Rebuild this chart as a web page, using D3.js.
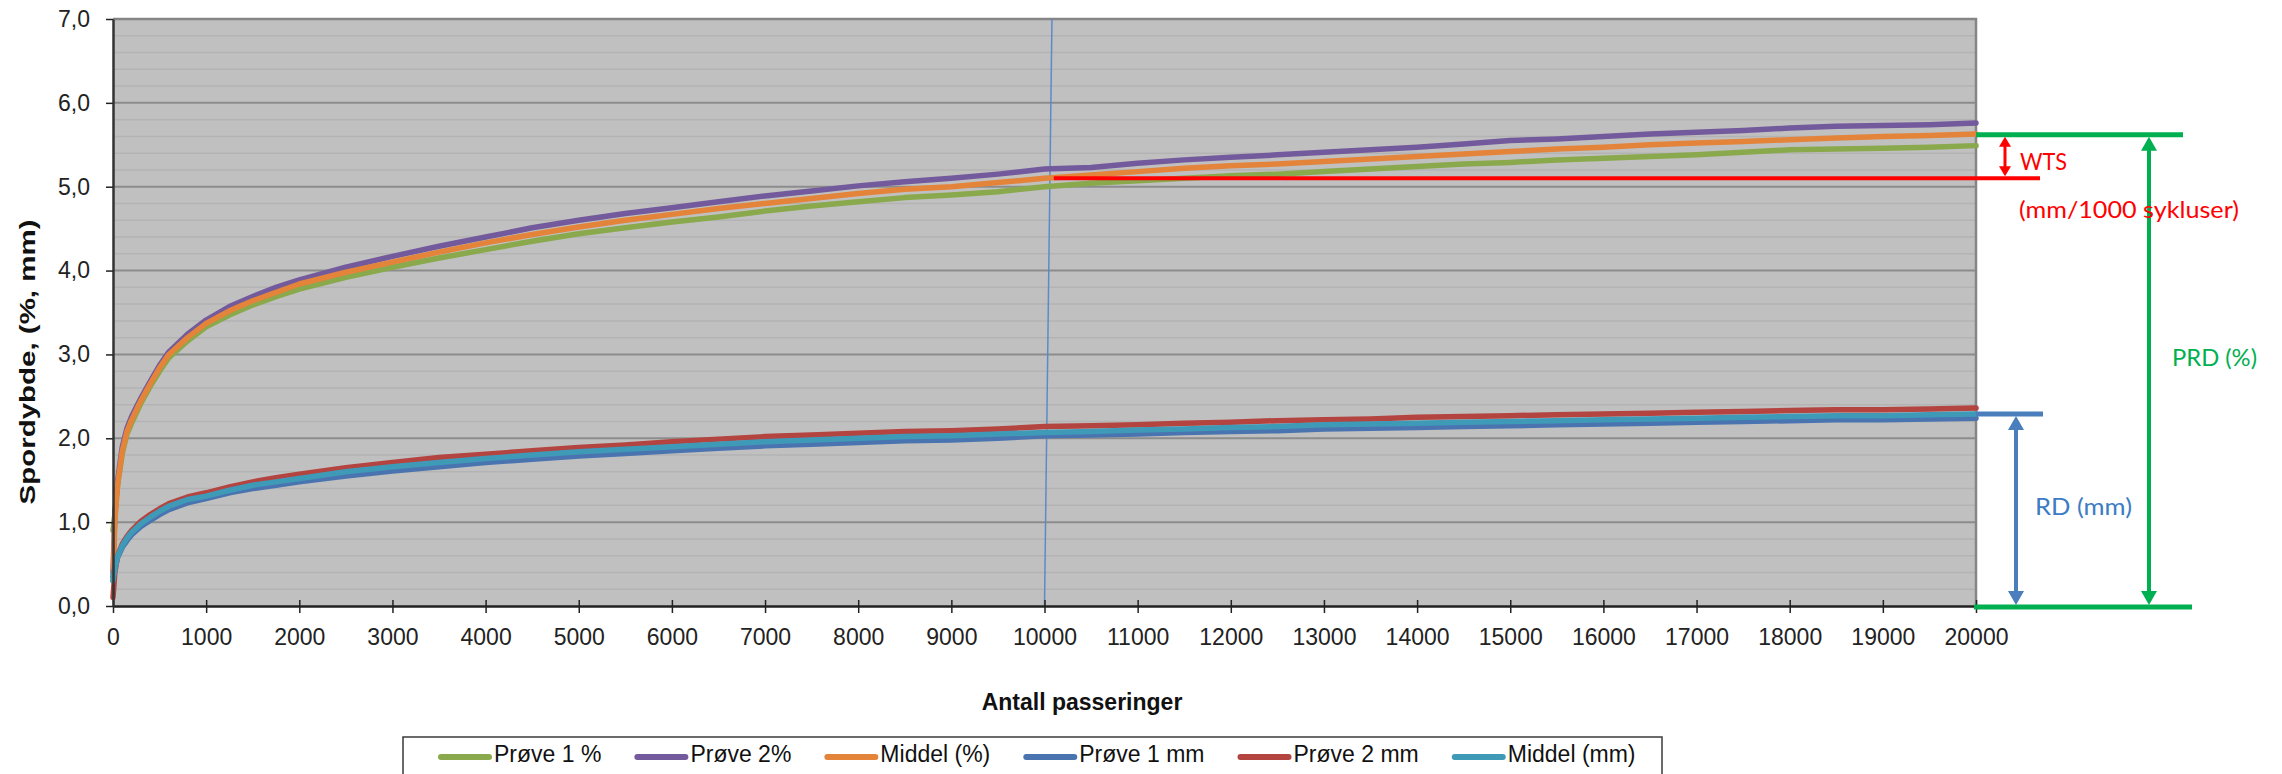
<!DOCTYPE html>
<html>
<head>
<meta charset="utf-8">
<script src="https://cdn.jsdelivr.net/npm/d3@7/dist/d3.min.js"></script>
<style>
  body { margin: 0; background: #fff; }
  svg { display: block; font-family: "Liberation Sans", Arial, sans-serif; }
</style>
</head>
<body>
<svg id="chart"></svg>
<script>
// antall passeringer (x values)
const passes = [0, 20, 50, 100, 150, 200, 300, 400, 500, 600, 800, 1000, 1250, 1500, 1750, 2000,
  2500, 3000, 3500, 4000, 4500, 5000, 5500, 6000, 6500, 7000, 7500, 8000, 8500, 9000, 9500, 10000,
  10500, 11000, 11500, 12000, 12500, 13000, 13500, 14000, 14500, 15000, 15500, 16000, 16500, 17000,
  17500, 18000, 18500, 19000, 19500, 20000];

const prove1Pct = [0.9, 1.1, 1.45, 1.82, 2.05, 2.18, 2.42, 2.62, 2.8, 2.96, 3.16, 3.33, 3.47, 3.59, 3.69, 3.78,
  3.92, 4.04, 4.15, 4.25, 4.35, 4.44, 4.51, 4.58, 4.64, 4.71, 4.77, 4.82, 4.87, 4.9, 4.94, 5.0,
  5.04, 5.07, 5.1, 5.13, 5.15, 5.18, 5.21, 5.24, 5.27, 5.29, 5.32, 5.34, 5.36, 5.38,
  5.41, 5.44, 5.45, 5.46, 5.47, 5.49];

const prove2Pct = [0.4, 1.1, 1.5, 1.9, 2.12, 2.26, 2.48, 2.68, 2.87, 3.03, 3.24, 3.41, 3.57, 3.69, 3.8, 3.89,
  4.04, 4.17, 4.29, 4.4, 4.51, 4.6, 4.68, 4.75, 4.82, 4.89, 4.95, 5.01, 5.06, 5.1, 5.15, 5.21,
  5.23, 5.28, 5.32, 5.35, 5.38, 5.41, 5.44, 5.47, 5.51, 5.55, 5.57, 5.6, 5.63, 5.65,
  5.67, 5.7, 5.72, 5.73, 5.74, 5.76];

const middelPct = [0.3, 1.0, 1.45, 1.85, 2.08, 2.22, 2.45, 2.65, 2.84, 3.0, 3.2, 3.37, 3.52, 3.64, 3.74, 3.84,
  3.98, 4.1, 4.22, 4.33, 4.43, 4.52, 4.6, 4.67, 4.74, 4.8, 4.86, 4.92, 4.97, 5.0, 5.05, 5.1,
  5.14, 5.18, 5.22, 5.25, 5.27, 5.3, 5.33, 5.36, 5.39, 5.42, 5.45, 5.47, 5.5, 5.52,
  5.54, 5.56, 5.58, 5.6, 5.61, 5.63];

const prove1Mm = [0.35, 0.46, 0.58, 0.7, 0.78, 0.85, 0.95, 1.02, 1.09, 1.15, 1.23, 1.28, 1.35, 1.4, 1.44, 1.48,
  1.55, 1.61, 1.66, 1.71, 1.75, 1.79, 1.82, 1.85, 1.88, 1.91, 1.93, 1.95, 1.97, 1.98, 2.0, 2.03,
  2.04, 2.05, 2.07, 2.08, 2.09, 2.11, 2.12, 2.13, 2.14, 2.15, 2.16, 2.17, 2.18, 2.19,
  2.2, 2.21, 2.22, 2.22, 2.23, 2.24];

const prove2Mm = [0.1, 0.4, 0.6, 0.74, 0.83, 0.9, 1.01, 1.09, 1.16, 1.22, 1.3, 1.35, 1.42, 1.48, 1.53, 1.57,
  1.65, 1.71, 1.77, 1.81, 1.85, 1.89, 1.92, 1.96, 1.99, 2.02, 2.04, 2.06, 2.08, 2.09, 2.11, 2.14,
  2.15, 2.16, 2.18, 2.19, 2.21, 2.22, 2.23, 2.25, 2.26, 2.27, 2.28, 2.29, 2.3, 2.31,
  2.32, 2.33, 2.34, 2.34, 2.35, 2.36];

const middelMm = [0.3, 0.44, 0.59, 0.72, 0.81, 0.88, 0.98, 1.06, 1.13, 1.19, 1.27, 1.31, 1.38, 1.44, 1.48, 1.52,
  1.6, 1.66, 1.71, 1.76, 1.8, 1.84, 1.87, 1.9, 1.93, 1.96, 1.98, 2.0, 2.02, 2.03, 2.05, 2.07,
  2.08, 2.1, 2.11, 2.13, 2.14, 2.16, 2.17, 2.18, 2.19, 2.2, 2.21, 2.22, 2.23, 2.24,
  2.25, 2.26, 2.27, 2.27, 2.28, 2.29];

const seriesNames = ["Prøve 1 %", "Prøve 2%", "Middel (%)", "Prøve 1 mm", "Prøve 2 mm", "Middel (mm)"];
const seriesValues = [prove1Pct, prove2Pct, middelPct, prove1Mm, prove2Mm, middelMm];
const seriesColors = ["#89a94c", "#735a9c", "#e3843a", "#4a74b0", "#b3443f", "#3f9ab8"];

const xTicks = d3.range(0, 20001, 1000);
const yTicks = [0, 1, 2, 3, 4, 5, 6, 7];
const yMinorTicks = d3.range(0, 7.01, 0.2).filter(v => Math.abs(v - Math.round(v)) > 0.01);

// annotation levels
const wtsLevel = 5.10, prdLevel = 5.62, rdLevel = 2.29, wtsStart = 10100;

const W = 2282, H = 774;
const svg = d3.select('#chart').attr('width', W).attr('height', H);

const x = d3.scaleLinear().domain([0, 20000]).range([113, 1976]);
const y = d3.scaleLinear().domain([0, 7]).range([606, 19]);
const [x0, x1] = x.range();
const [y0, y1] = y.range();

// plot background
svg.append('rect')
  .attr('x', x0).attr('y', y1)
  .attr('width', x1 - x0).attr('height', y0 - y1)
  .attr('fill', '#c0c0c0');

// minor gridlines
svg.append('g').selectAll('line')
  .data(yMinorTicks).enter().append('line')
  .attr('x1', x0).attr('x2', x1)
  .attr('y1', d => y(d)).attr('y2', d => y(d))
  .attr('stroke', '#b3b3b3').attr('stroke-width', 1.5);

// major gridlines
svg.append('g').selectAll('line')
  .data(yTicks.slice(1)).enter().append('line')
  .attr('x1', x0).attr('x2', x1)
  .attr('y1', d => y(d)).attr('y2', d => y(d))
  .attr('stroke', '#8c8c8c').attr('stroke-width', 2);

// plot border (top/right)
svg.append('path')
  .attr('d', `M${x0},${y1}H${x1}V${y0}`)
  .attr('fill', 'none').attr('stroke', '#858585').attr('stroke-width', 2.5);

// thin guide line near 10000
svg.append('line')
  .attr('x1', x(10000)).attr('y1', y(0))
  .attr('x2', x(10080)).attr('y2', y(7))
  .attr('stroke', '#5b8bc6').attr('stroke-width', 1.5);

// series
const line = d3.line()
  .x((d, i) => x(passes[i]))
  .y(d => y(d));

svg.append('g').selectAll('path')
  .data(seriesValues).enter().append('path')
  .attr('d', d => line(d))
  .attr('fill', 'none')
  .attr('stroke', (d, i) => seriesColors[i])
  .attr('stroke-width', 5.5)
  .attr('stroke-linejoin', 'round')
  .attr('stroke-linecap', 'round');

// axes
const xAxis = svg.append('g')
  .attr('transform', `translate(0, ${y0})`)
  .call(d3.axisBottom(x).tickValues(xTicks).tickFormat(d3.format('d')).tickSize(7).tickSizeOuter(0));
xAxis.select('.domain').attr('stroke', '#222').attr('stroke-width', 2.5);
xAxis.selectAll('.tick line').attr('y1', -6).attr('stroke', '#222').attr('stroke-width', 1.5);
xAxis.selectAll('.tick text')
  .attr('y', 22).attr('dy', 0)
  .attr('font-size', 23).attr('fill', '#222')
  .attr('font-family', '"Liberation Sans", Arial, sans-serif')
  .attr('dominant-baseline', 'hanging');

const yAxis = svg.append('g')
  .attr('transform', `translate(${x0}, 0)`)
  .call(d3.axisLeft(y).tickValues(yTicks).tickFormat(d => d3.format('.1f')(d).replace('.', ',')).tickSize(7).tickSizeOuter(0));
yAxis.select('.domain').attr('stroke', '#333').attr('stroke-width', 2.5);
yAxis.selectAll('.tick line').attr('stroke', '#222').attr('stroke-width', 1.5);
yAxis.selectAll('.tick text')
  .attr('x', -23)
  .attr('font-size', 23).attr('fill', '#222')
  .attr('font-family', '"Liberation Sans", Arial, sans-serif');

// axis titles
svg.append('text')
  .attr('transform', 'translate(35, 362) rotate(-90)')
  .attr('text-anchor', 'middle')
  .attr('font-size', 22).attr('font-weight', 'bold').attr('fill', '#111')
  .attr('textLength', 285).attr('lengthAdjust', 'spacingAndGlyphs')
  .text('Spordybde, (%, mm)');

svg.append('text')
  .attr('x', 1082).attr('y', 710)
  .attr('text-anchor', 'middle')
  .attr('font-size', 23).attr('font-weight', 'bold').attr('fill', '#111')
  .text('Antall passeringer');

// legend
const legend = svg.append('g');
legend.append('rect')
  .attr('x', 403).attr('y', 737).attr('width', 1259).attr('height', 60)
  .attr('fill', '#fff').attr('stroke', '#3a3a3a').attr('stroke-width', 1.5);
let lx = 439;
seriesNames.forEach((name, i) => {
  legend.append('line')
    .attr('x1', lx + 2).attr('x2', lx + 50).attr('y1', 757).attr('y2', 757)
    .attr('stroke', seriesColors[i]).attr('stroke-width', 6).attr('stroke-linecap', 'round');
  const t = legend.append('text')
    .attr('x', lx + 55).attr('y', 762)
    .attr('font-size', 23).attr('fill', '#111')
    .text(name);
  lx += 55 + t.node().getComputedTextLength() + 34;
});

// annotations
const green = '#00b050', red = '#ff0000', blue = '#4a7ebd';

function arrow(g, ax, ya, yb, color, w, headW, headL) {
  g.append('line')
    .attr('x1', ax).attr('x2', ax).attr('y1', ya + headL - 1).attr('y2', yb - headL + 1)
    .attr('stroke', color).attr('stroke-width', w);
  g.append('path')
    .attr('d', `M${ax},${ya}L${ax - headW / 2},${ya + headL}L${ax + headW / 2},${ya + headL}Z`)
    .attr('fill', color);
  g.append('path')
    .attr('d', `M${ax},${yb}L${ax - headW / 2},${yb - headL}L${ax + headW / 2},${yb - headL}Z`)
    .attr('fill', color);
}

const ann = svg.append('g').attr('font-family', 'Lato, "Open Sans", sans-serif');

// WTS reference line
ann.append('line')
  .attr('x1', x(wtsStart)).attr('x2', x1 + 64)
  .attr('y1', y(wtsLevel)).attr('y2', y(wtsLevel))
  .attr('stroke', red).attr('stroke-width', 4);

// PRD lines
ann.append('line')
  .attr('x1', x1).attr('x2', x1 + 207)
  .attr('y1', y(prdLevel)).attr('y2', y(prdLevel))
  .attr('stroke', green).attr('stroke-width', 5);
ann.append('line')
  .attr('x1', x1 - 2).attr('x2', x1 + 216)
  .attr('y1', y(0) + 1).attr('y2', y(0) + 1)
  .attr('stroke', green).attr('stroke-width', 5);
arrow(ann, x1 + 173, y(prdLevel) + 2, y(0) - 1, green, 4, 16, 14);

// RD line
ann.append('line')
  .attr('x1', x1).attr('x2', x1 + 67)
  .attr('y1', y(rdLevel)).attr('y2', y(rdLevel))
  .attr('stroke', blue).attr('stroke-width', 5);
arrow(ann, x1 + 40, y(rdLevel) + 2, y(0) - 1, blue, 4, 16, 14);

// WTS arrow
arrow(ann, x1 + 29, y(prdLevel) + 2, y(wtsLevel) - 2, red, 3, 12, 10);

ann.append('text')
  .attr('x', x1 + 44).attr('y', 170)
  .attr('font-size', 24).attr('fill', red)
  .attr('textLength', 47).attr('lengthAdjust', 'spacingAndGlyphs')
  .text('WTS');
ann.append('text')
  .attr('x', x1 + 43).attr('y', 218)
  .attr('font-size', 24).attr('fill', red)
  .attr('textLength', 220).attr('lengthAdjust', 'spacingAndGlyphs')
  .text('(mm/1000 sykluser)');
ann.append('text')
  .attr('x', x1 + 196).attr('y', 366)
  .attr('font-size', 24).attr('fill', green)
  .attr('textLength', 85).attr('lengthAdjust', 'spacingAndGlyphs')
  .text('PRD (%)');
ann.append('text')
  .attr('x', x1 + 59).attr('y', 515)
  .attr('font-size', 24).attr('fill', '#3b7cc4')
  .attr('textLength', 97).attr('lengthAdjust', 'spacingAndGlyphs')
  .text('RD (mm)');
</script>
</body>
</html>
